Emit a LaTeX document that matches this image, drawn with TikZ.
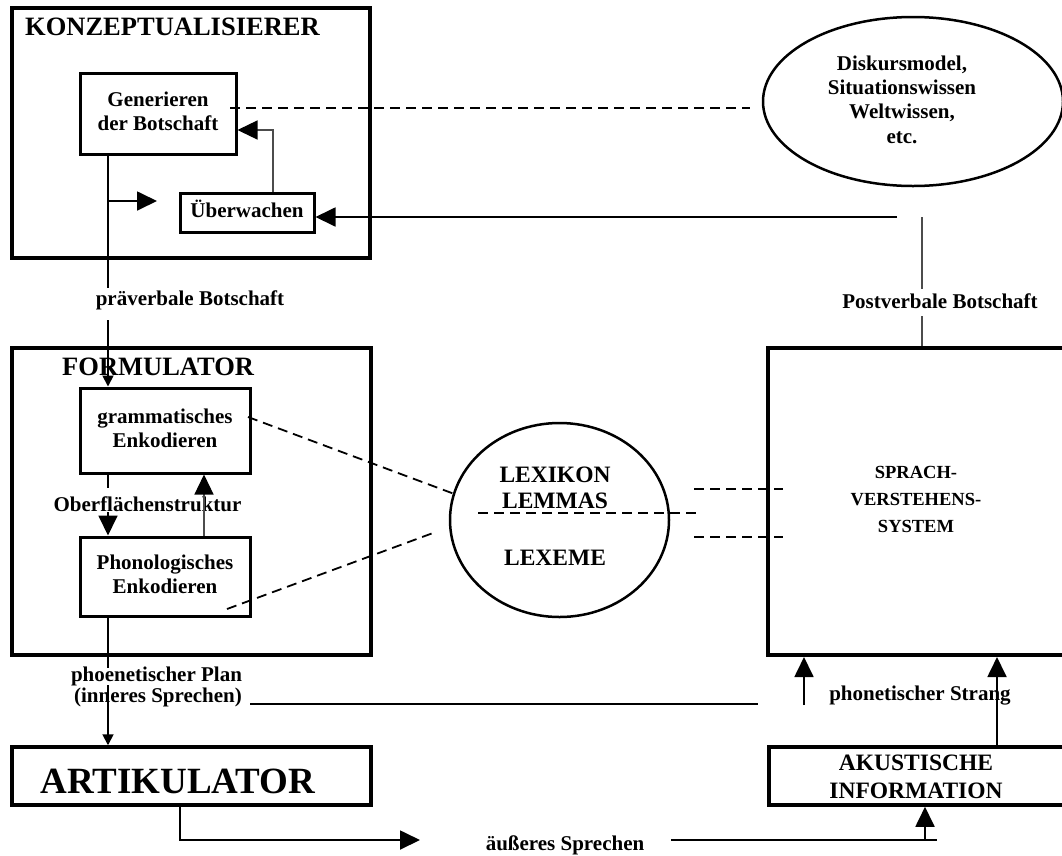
\documentclass[tikz,border=0pt]{standalone}
\usepackage{fontspec}
\setmainfont{Liberation Serif}
\usetikzlibrary{arrows.meta,calc,shapes.geometric}

% centred multi-line text whose baseline is the first line
\newcommand{\mlines}[1]{\begin{tabular}[t]{@{}c@{}}#1\end{tabular}}

\begin{document}
\begin{tikzpicture}[x=1pt,y=-1pt,
  box/.style={draw, line width=3pt, rectangle, inner sep=0pt},
  outer/.style={draw, line width=4pt, rectangle, inner sep=0pt},
  oval/.style={draw, line width=2.5pt, ellipse, inner sep=0pt},
  txt/.style={inner sep=0pt, font=\fontsize{21}{24.4}\selectfont\bfseries},
  txtm/.style={inner sep=0pt, font=\fontsize{23.5}{28}\selectfont\bfseries},
  txts/.style={inner sep=0pt, font=\fontsize{18.5}{27}\selectfont\bfseries},
  ttl/.style={inner sep=0pt, anchor=base west, font=\fontsize{26.5}{30}\selectfont\bfseries},
  ln/.style={line width=1.8pt},
  lnthin/.style={line width=1.3pt, black!70},
  dsh/.style={line width=1.8pt, dash pattern=on 10pt off 6pt},
  tip/.style={-{Triangle[length=20pt,width=19pt,color=black]}},
  tipsmall/.style={-{Triangle[length=11pt,width=11pt,color=black]}},
]
\useasboundingbox (0,0) rectangle (1062,855);
\clip (0,0) rectangle (1062,855);

% ---------- boxes ----------
\node[outer, minimum width=358pt, minimum height=250pt] (konz) at (191,133) {};
\node[box, minimum width=156pt, minimum height=81pt, txt] (gen) at (158,113.5) {\mlines{Generieren\\der Botschaft}};
\node[box, minimum width=134pt, minimum height=39pt, txt] (ueb) at (247,212.5) {\mlines{Überwachen}};
\node[oval, minimum width=300pt, minimum height=169pt] (disk) at (913,101.5) {};

\node[outer, minimum width=359pt, minimum height=307pt] (form) at (191.5,501.5) {};
\node[box, minimum width=170pt, minimum height=85pt, txt] (gram) at (165,430.5) {\mlines{grammatisches\\Enkodieren}};
\node[box, minimum width=170pt, minimum height=79pt, txt] (phon) at (165,576.5) {\mlines{Phonologisches\\Enkodieren}};
\node[oval, minimum width=219pt, minimum height=194pt] (lex) at (559.5,520) {};

\node[outer, minimum width=302pt, minimum height=307pt] (sprach) at (919,501.5) {};
\node[outer, line width=3.5pt, minimum width=359pt, minimum height=58pt] (artik) at (191.5,776) {};
\node[outer, line width=3.5pt, minimum width=301pt, minimum height=58pt] (akus) at (919.5,776) {};

% ---------- texts ----------
\node[ttl] (konzT) at (25,35) {KONZEPTUALISIERER};
\node[ttl] (formT) at (62,375) {FORMULATOR};
\node[txt, anchor=base] (diskT) at (902,70) {\mlines{Diskursmodel,\\Situationswissen\\Weltwissen,\\etc.}};
\node[txt, anchor=base] (praeT) at (190,305) {präverbale Botschaft};
\node[txt, anchor=base] (postT) at (940,308) {Postverbale Botschaft};
\node[txt, anchor=base] (oberT) at (147.5,511) {Oberflächenstruktur};
\node[txtm, anchor=base] (lexA) at (555,482) {LEXIKON};
\node[txtm, anchor=base] (lexB) at (555,508) {LEMMAS};
\node[txtm, anchor=base] (lexC) at (555,565) {LEXEME};
\node[txts, anchor=base] (sprT) at (916,478) {\mlines{SPRACH-\\VERSTEHENS-\\SYSTEM}};
\node[txt, anchor=base] (planT) at (156.5,681) {phoenetischer Plan};
\node[txt, anchor=base] (innT) at (158,702) {(inneres Sprechen)};
\node[txt, anchor=base] (strT) at (920,700) {phonetischer Strang};
\node[inner sep=0pt, anchor=base, font=\fontsize{37}{40}\selectfont\bfseries] (artT) at (178,793) {ARTIKULATOR};
\node[txtm, anchor=base] (akusT) at (916,770) {\mlines{AKUSTISCHE\\INFORMATION}};
\node[txt, anchor=base] (aeuT) at (565,850) {äußeres Sprechen};

% ---------- helper coordinates ----------
\coordinate (colA) at (108,0);
\coordinate (colB) at (204,0);
\coordinate (colC) at (997,0);
\coordinate (preA) at (108,288);
\coordinate (preB) at (108,320);
\coordinate (brA) at (108,201);
\coordinate (brB) at (157,201);
\coordinate (fbA) at (273,130);
\coordinate (dA) at (230,108);
\coordinate (dB) at (750,108);
\coordinate (monA) at (897,217);
\coordinate (poA) at (922,217);
\coordinate (poB) at (922,289);
\coordinate (poC) at (922,316);
\coordinate (obA) at (108,488);
\coordinate (obB) at (108,512);
\coordinate (gdA) at (248,417);
\coordinate (pdA) at (227,609);
\coordinate (pdB) at (433,533);
\coordinate (mdA) at (478,513);
\coordinate (mdB) at (697,513);
\coordinate (udA) at (694,489);
\coordinate (udB) at (783,489);
\coordinate (ldA) at (694,537);
\coordinate (ldB) at (783,537);
\coordinate (plA) at (108,668);
\coordinate (plB) at (108,685);
\coordinate (lnA) at (250,704);
\coordinate (lnB) at (758,704);
\coordinate (psA) at (804,705);
\coordinate (arA) at (180,840);
\coordinate (arB) at (420,840);
\coordinate (osA) at (671,840);
\coordinate (osB) at (937,840);
\coordinate (osC) at (925,840);

% ---------- conceptualiser ----------
\draw[ln] (gen.south -| colA) -- (preA);
\draw[ln, tipsmall] (preB) -- (gram.north -| colA);
\draw[ln, tip] (brA) -- (brB);
\draw[lnthin, tip] (ueb.north -| fbA) |- (gen.east |- fbA);
\draw[dsh] (dA) -- (dB);
\draw[ln, tip] (monA) -- (ueb.east |- monA);
\draw[lnthin] (poA) -- (poB);
\draw[lnthin] (poC) -- (sprach.north -| poC);

% ---------- formulator ----------
\draw[ln] (gram.south -| colA) -- (obA);
\draw[ln, tip] (obB) -- (phon.north -| colA);
\draw[lnthin, tip] (phon.north -| colB) -- (gram.south -| colB);
\draw[dsh] (gdA) -- (lex.166);
\draw[dsh] (pdA) -- (pdB);
\draw[dsh] (mdA) -- (mdB);
\draw[dsh] (udA) -- (udB);
\draw[dsh] (ldA) -- (ldB);

% ---------- articulation and audition ----------
\draw[ln] (phon.south -| colA) -- (plA);
\draw[ln, tipsmall] (plB) -- (artik.north -| colA);
\draw[ln] (lnA) -- (lnB);
\draw[ln, tip] (psA) -- (sprach.south -| psA);
\draw[ln, tip] (akus.north -| colC) -- (sprach.south -| colC);
\draw[ln, tip] (artik.south -| arA) |- (arB);
\draw[ln] (osA) -- (osB);
\draw[ln, tip] (osC) -- (akus.south -| osC);
\end{tikzpicture}
\end{document}
